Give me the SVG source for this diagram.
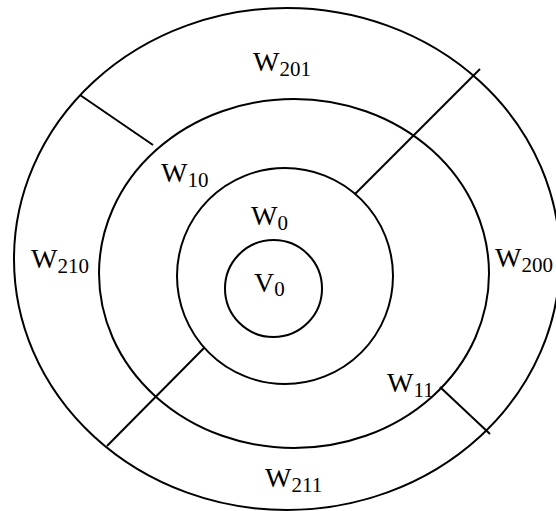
<svg xmlns="http://www.w3.org/2000/svg" width="556" height="511" viewBox="0 0 556 511">
<style>
.ring{fill:none;stroke:#000;stroke-width:2}
.div{stroke:#000;stroke-width:2;fill:none}
text{font-family:"Liberation Serif","Times New Roman",serif;font-size:28px;fill:#000}
.sub{font-size:21px}
</style>
<rect width="556" height="511" fill="#fff"/>
<g id="W2">
<ellipse class="ring" cx="287" cy="259" rx="273" ry="251"/>
</g>
<g id="W1">
<ellipse class="ring" cx="294" cy="273.5" rx="195" ry="174.5"/>
</g>
<g id="W0">
<circle class="ring" cx="285" cy="276" r="108"/>
</g>
<g id="V0">
<circle class="ring" cx="273.5" cy="288.5" r="48.5"/>
</g>
<g id="connectors">
<line class="div" x1="80" y1="95" x2="153" y2="145"/>
<line class="div" x1="480" y1="69" x2="355" y2="194"/>
<line class="div" x1="107" y1="446" x2="204" y2="348"/>
<line class="div" x1="440" y1="387" x2="490" y2="434"/>
</g>
<g id="labels">
<text id="t-W201" x="253" y="71">W<tspan class="sub" dy="5">201</tspan></text>
<text id="t-W10" x="161" y="182">W<tspan class="sub" dy="5">10</tspan></text>
<text id="t-W0" x="251" y="225">W<tspan class="sub" dy="5">0</tspan></text>
<text id="t-V0" x="254" y="292">V<tspan class="sub" dy="4">0</tspan></text>
<text id="t-W210" x="31" y="268">W<tspan class="sub" dy="5">210</tspan></text>
<text id="t-W200" x="495" y="267">W<tspan class="sub" dy="5">200</tspan></text>
<text id="t-W11" x="387" y="392">W<tspan class="sub" dy="5">11</tspan></text>
<text id="t-W211" x="265" y="487">W<tspan class="sub" dy="5">211</tspan></text>
</g>
</svg>
